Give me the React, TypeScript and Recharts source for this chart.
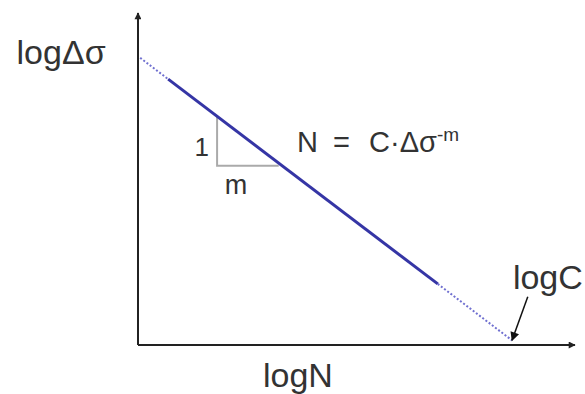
import React from 'react';
import { LineChart, Line, XAxis, YAxis, ReferenceDot } from 'recharts';

// S-N curve in log-log form: logΔσ against logN
const curveLogN = [0.05, 0.69, 6.86, 8.56];
const curveLogS = [8.65, 8.01, 1.84, 0.14];

// slope triangle (rise 1, run m)
const slopeLogN = [1.81, 1.81, 3.22];
const slopeLogS = [6.89, 5.4, 5.4];

// pointer from the logC label to the intercept
const pointerLogN = [8.92, 8.56];
const pointerLogS = [1.45, 0.14];

// axis extents; the domain is padded so the arrowheads are not clipped
const axisMax = 10;
const domainX: [number, number] = [-0.5, 10.2];
const domainY: [number, number] = [-0.5, 10.2];

const pts = (xs: number[], ys: number[]) => xs.map((x, i) => ({ x, y: ys[i] }));

const curve = pts(curveLogN, curveLogS);
const leadDotted = curve.slice(0, 2);
const solidPart = curve.slice(1, 3);
const tailDotted = curve.slice(2, 4);
const slopeTri = pts(slopeLogN, slopeLogS);
const pointer = pts(pointerLogN, pointerLogS);
const xAxisLine = pts([0, axisMax], [0, 0]);
const yAxisLine = pts([0, 0], [0, axisMax]);

const FONT = 'Liberation Sans, Arial, sans-serif';
const TEXT = '#333';

const textLabel = (value: string, size: number) => ({
  value,
  position: 'center' as const,
  fontSize: size,
  fill: TEXT,
  fontFamily: FONT,
});

const Formula = (props: any) => {
  const vb = props.viewBox || {};
  const x0 = vb.x;
  return (
    <text x={x0} y={vb.y} fontSize={29} fill={TEXT} fontFamily={FONT}>
      <tspan x={x0}>N</tspan>
      <tspan x={x0 + 36}>=</tspan>
      <tspan x={x0 + 72}>C·Δσ</tspan>
      <tspan dy={-11} fontSize={19}>-m</tspan>
    </text>
  );
};

export default function App() {
  return (
    <div style={{ width: 585, height: 394, background: '#fff' }}>
      <style>{`body{margin:0}`}</style>
      <LineChart
        width={585}
        height={394}
        margin={{ top: 6.4, right: 1.3, bottom: 32.4, left: 116.15 }}
      >
        <defs>
          <marker
            id="axisArrow"
            viewBox="0 0 10 10"
            refX="9"
            refY="5"
            markerWidth="11"
            markerHeight="7"
            markerUnits="userSpaceOnUse"
            orient="auto"
          >
            <path d="M0,0 L10,5 L0,10 z" fill="#222" />
          </marker>
          <marker
            id="pointerArrow"
            viewBox="0 0 10 10"
            refX="9"
            refY="5"
            markerWidth="11"
            markerHeight="9"
            markerUnits="userSpaceOnUse"
            orient="auto"
          >
            <path d="M0,0 L10,5 L0,10 z" fill="#111" />
          </marker>
        </defs>
        <XAxis type="number" dataKey="x" domain={domainX} hide allowDataOverflow />
        <YAxis type="number" dataKey="y" domain={domainY} hide allowDataOverflow />

        <Line data={xAxisLine} dataKey="y" stroke="#222" strokeWidth={2} dot={false} isAnimationActive={false} markerEnd="url(#axisArrow)" />
        <Line data={yAxisLine} dataKey="y" stroke="#222" strokeWidth={2} dot={false} isAnimationActive={false} markerEnd="url(#axisArrow)" />

        <Line data={slopeTri} dataKey="y" stroke="#aaaaaa" strokeWidth={2} dot={false} isAnimationActive={false} />

        <Line data={leadDotted} dataKey="y" stroke="#7070d0" strokeWidth={2} strokeDasharray="2 2" dot={false} isAnimationActive={false} />
        <Line data={solidPart} dataKey="y" stroke="#3535a5" strokeWidth={3} dot={false} isAnimationActive={false} />
        <Line data={tailDotted} dataKey="y" stroke="#7070d0" strokeWidth={2} strokeDasharray="2 2" dot={false} isAnimationActive={false} />

        <Line data={pointer} dataKey="y" stroke="#111" strokeWidth={1.5} dot={false} isAnimationActive={false} markerEnd="url(#pointerArrow)" />

        <ReferenceDot x={-1.76} y={8.83} r={0} ifOverflow="visible" label={textLabel('logΔσ', 34)} />
        <ReferenceDot x={3.66} y={-0.9} r={0} ifOverflow="visible" label={textLabel('logN', 34)} />
        <ReferenceDot x={9.38} y={2.05} r={0} ifOverflow="visible" label={textLabel('logC', 34)} />
        <ReferenceDot x={1.46} y={5.96} r={0} ifOverflow="visible" label={textLabel('1', 26)} />
        <ReferenceDot x={2.24} y={4.85} r={0} ifOverflow="visible" label={textLabel('m', 27)} />
        <ReferenceDot x={3.64} y={5.8} r={0} ifOverflow="visible" label={{ content: Formula }} />
      </LineChart>
    </div>
  );
}
